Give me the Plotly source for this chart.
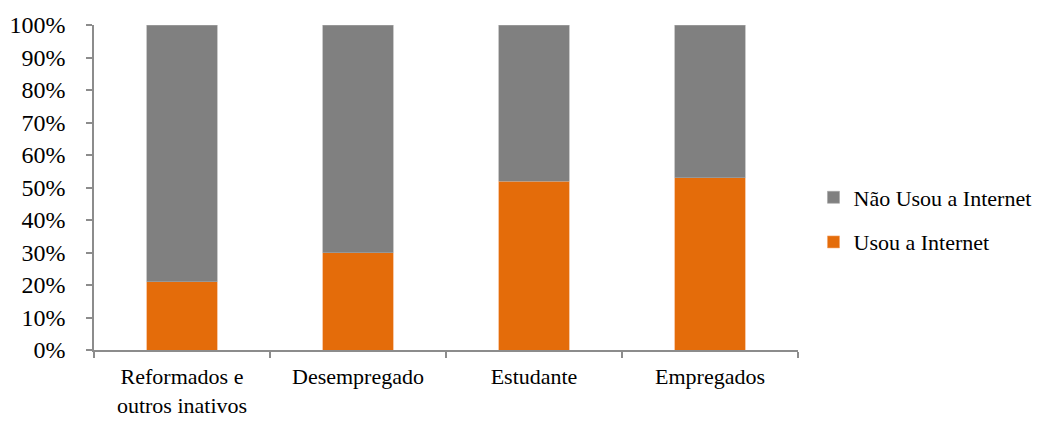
import plotly.graph_objects as go

categories = ["Reformados e<br>outros inativos", "Desempregado", "Estudante", "Empregados"]
usou = [21, 30, 52, 53]
nao_usou = [79, 70, 48, 47]
y_ticks = [0, 10, 20, 30, 40, 50, 60, 70, 80, 90, 100]
y_tick_labels = [f"{v}%" for v in y_ticks]

FONT = "Liberation Serif, Times New Roman, serif"
AXIS_GREY = "#8c8c8c"

fig = go.Figure()
fig.add_trace(go.Bar(
    x=categories, y=usou, name="Usou a Internet",
    marker=dict(color="#E46C0A", line=dict(width=0.6, color="#f4a56a")),
    legendgroup="usou", legendrank=2,
))
fig.add_trace(go.Bar(
    x=categories, y=nao_usou, name="Não Usou a Internet",
    marker=dict(color="#808080", line=dict(width=0.6, color="#a6a6a6")),
    legendgroup="nao", legendrank=1,
))

fig.update_layout(
    barmode="stack",
    bargap=0.6,
    width=1049, height=423,
    margin=dict(l=94, r=251, t=25, b=73),
    paper_bgcolor="white", plot_bgcolor="white",
    font=dict(family=FONT, color="black", size=22),
    legend=dict(
        traceorder="grouped", tracegroupgap=13,
        x=1.022, xanchor="left", y=0.4, yanchor="middle",
        font=dict(size=22, family=FONT),
        itemclick=False,
    ),
)
fig.update_yaxes(
    range=[0, 100], tickvals=y_ticks, ticktext=y_tick_labels,
    showgrid=False, showline=True, linecolor=AXIS_GREY, linewidth=1.5,
    ticks="outside", ticklen=6, tickcolor=AXIS_GREY, tickwidth=1.5,
    ticklabelstandoff=16, automargin=False,
    tickfont=dict(size=24, family=FONT),
)
fig.update_xaxes(
    showline=True, linecolor=AXIS_GREY, linewidth=1.5,
    ticks="outside", ticklen=6, tickcolor=AXIS_GREY, tickwidth=1.5,
    tickson="boundaries", range=[-0.5, 3.5],
    ticklabelstandoff=6, automargin=False,
    tickfont=dict(size=22, family=FONT),
)

fig.write_html("out.html")
